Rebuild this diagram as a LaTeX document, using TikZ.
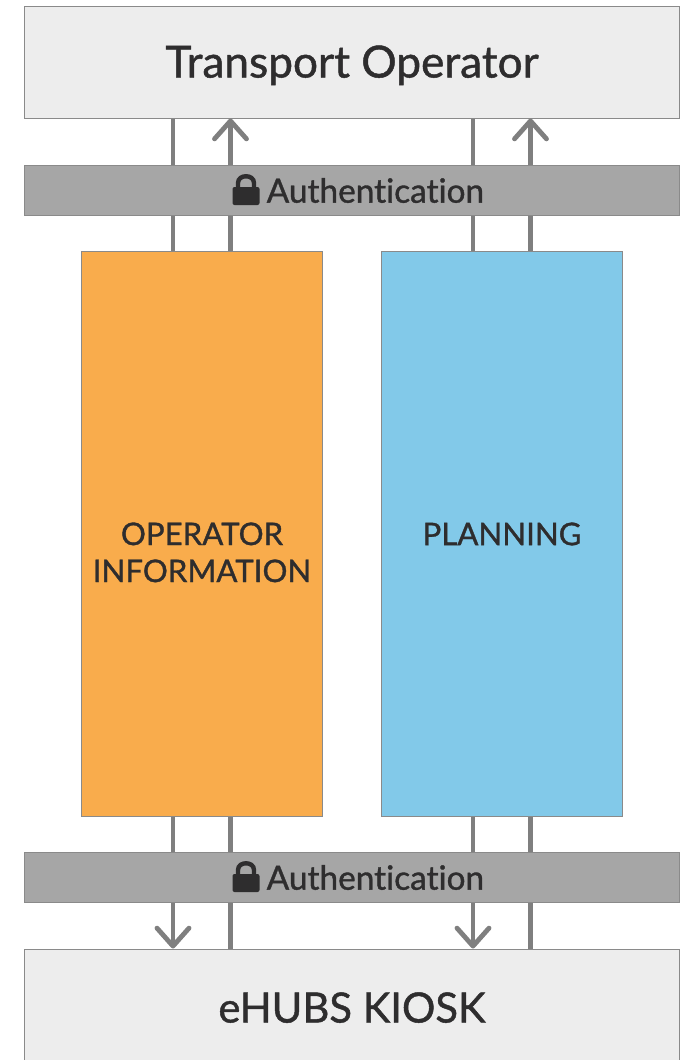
\documentclass[tikz,border=0pt]{standalone}
\usepackage{fontspec}
\setmainfont{Lato}[Ligatures=NoCommon,FakeBold=1.1]
\usetikzlibrary{arrows.meta}
\definecolor{txt}{HTML}{2E2D2E}
\definecolor{edgegray}{HTML}{8A8A8A}
\definecolor{linegray}{HTML}{7F7F7F}
\definecolor{panel}{HTML}{EDEDED}
\definecolor{band}{HTML}{A6A6A6}
\definecolor{orangebox}{HTML}{F9AC4C}
\definecolor{bluebox}{HTML}{82C9E9}
\tikzset{
  x=1pt,y=-1pt,
  boxbase/.style={draw=edgegray,line width=1pt,inner sep=0pt,text=txt},
  panelbox/.style={boxbase,fill=panel,minimum width=655.5pt,text height=31pt,text depth=0pt,font=\fontsize{44.2}{48}\selectfont},
  bandbox/.style={boxbase,fill=band,minimum width=655.5pt,minimum height=50.5pt},
  infobox/.style={boxbase,align=center,minimum width=241pt,minimum height=565.5pt,font=\fontsize{31.2}{37}\selectfont},
  bandtext/.style={inner sep=0pt,text=txt,font=\fontsize{33.4}{34}\selectfont,anchor=west},
  link/.style={draw=linegray,line width=4.8pt},
  arrowlink/.style={link,-{Straight Barb[length=18pt,width=32pt,line width=4.8pt,round]}},
  lockpic/.pic={
    \fill[txt,rounded corners=2pt] (0,13) rectangle (27,31);
    \draw[txt,line width=4.4pt] (5.5,15) -- (5.5,9) .. controls (5.5,0) and (21.5,0) .. (21.5,9) -- (21.5,15);
  },
}
\begin{document}
\begin{tikzpicture}
\useasboundingbox (0,0) rectangle (688,1060);
\clip (0,0) rectangle (688,1060);
\fill[white] (0,0) rectangle (688,1060);
\node[panelbox,minimum height=112pt] (top) at (352,62) {Transport Operator};
\node[bandbox] (authA) at (352,190.5) {};
\node[infobox,fill=orangebox] (info) at (202,534) {\phantom{X}\\OPERATOR\\INFORMATION};
\node[infobox,fill=bluebox] (plan) at (502,534) {\phantom{X}\\PLANNING\\\phantom{X}};
\node[bandbox] (authB) at (352,877.5) {};
\node[panelbox,minimum height=116pt,font=\fontsize{41.7}{48}\selectfont] (kiosk) at (352,1007) {eHUBS KIOSK};
\node[bandtext] (authAt) at (266.5,190.5) {Authentication};
\node[bandtext] (authBt) at (266.5,877.5) {Authentication};
\pic at (232.5,174) {lockpic};
\pic at (232.5,861) {lockpic};
\foreach \n/\xx in {info/173,plan/473}{
  \coordinate (c) at (\xx,0);
  \path[link] (\n.north -| c) -- (authA.south -| c);
  \path[link] (authA.north -| c) -- (top.south -| c);
  \path[link] (\n.south -| c) -- (authB.north -| c);
  \path[arrowlink] (authB.south -| c) -- (kiosk.north -| c);
}
\foreach \n/\xx in {info/230.5,plan/530.5}{
  \coordinate (c) at (\xx,0);
  \path[link] (\n.north -| c) -- (authA.south -| c);
  \path[arrowlink] (authA.north -| c) -- (top.south -| c);
  \path[link] (\n.south -| c) -- (authB.north -| c);
  \path[link] (authB.south -| c) -- (kiosk.north -| c);
}
\end{tikzpicture}
\end{document}
